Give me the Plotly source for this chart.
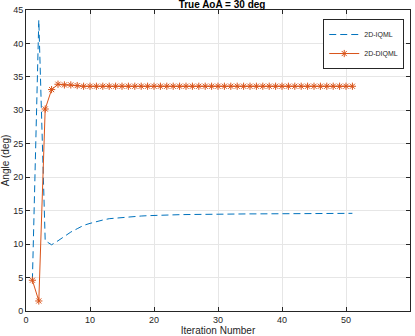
import plotly.graph_objects as go

iters = list(range(1, 52))
iqml = [4.6, 43.5, 10.5, 9.9, 10.5, 11.2, 11.8, 12.3, 12.8, 13.1,
        13.4, 13.6, 13.8, 13.9, 14.0, 14.1, 14.15, 14.2, 14.25, 14.3,
        14.33, 14.36, 14.38, 14.4, 14.42, 14.44, 14.45, 14.46, 14.47, 14.48,
        14.49, 14.5, 14.5, 14.51, 14.52, 14.52, 14.53, 14.53, 14.54, 14.54,
        14.55, 14.55, 14.56, 14.56, 14.57, 14.57, 14.58, 14.58, 14.59, 14.59, 14.6]
diqml = [4.6, 1.5, 30.2, 33.1, 33.9, 33.8, 33.8, 33.7] + [33.6] * 43

fig = go.Figure()
fig.add_trace(go.Scatter(x=iters, y=iqml, mode="lines", name="2D-IQML",
                         line=dict(color="#0072BD", width=1, dash="7px,4px")))
fig.add_trace(go.Scatter(x=iters, y=diqml, mode="lines+markers", name="2D-DIQML",
                         line=dict(color="#D95319", width=1),
                         marker=dict(symbol="asterisk-open", size=6,
                                     line=dict(color="#D95319", width=1))))

axis_common = dict(showline=True, linecolor="#262626", linewidth=1, mirror="ticks",
                   ticks="inside", ticklen=4, tickcolor="#262626",
                   showgrid=True, gridcolor="#e6e6e6", gridwidth=1, zeroline=False,
                   tickfont=dict(family="Liberation Sans, Arial", size=9, color="#262626"))

fig.update_layout(
    width=415, height=336,
    margin=dict(l=25, r=4, t=10, b=21),
    paper_bgcolor="white", plot_bgcolor="white",
    title=dict(text="<b>True AoA = 30 deg</b>", x=0.535, xanchor="center", y=0.998, yanchor="top",
               font=dict(family="Liberation Sans, Arial", size=10, color="black")),
    xaxis=dict(range=[0, 60], dtick=10,
               title=dict(text="Iteration Number", standoff=0,
                          font=dict(family="Liberation Sans, Arial", size=10, color="#262626")),
               **axis_common),
    yaxis=dict(range=[0, 45], dtick=5,
               title=dict(text="Angle (deg)", standoff=2,
                          font=dict(family="Liberation Sans, Arial", size=10, color="#262626")),
               **axis_common),
    legend=dict(x=0.985, y=0.97, xanchor="right", yanchor="top",
                bgcolor="white", bordercolor="#262626", borderwidth=1,
                font=dict(family="Liberation Sans, Arial", size=7, color="#262626"),
                tracegroupgap=0, itemwidth=30, valign="middle"),
    showlegend=True,
)

fig.write_html("out.html")
